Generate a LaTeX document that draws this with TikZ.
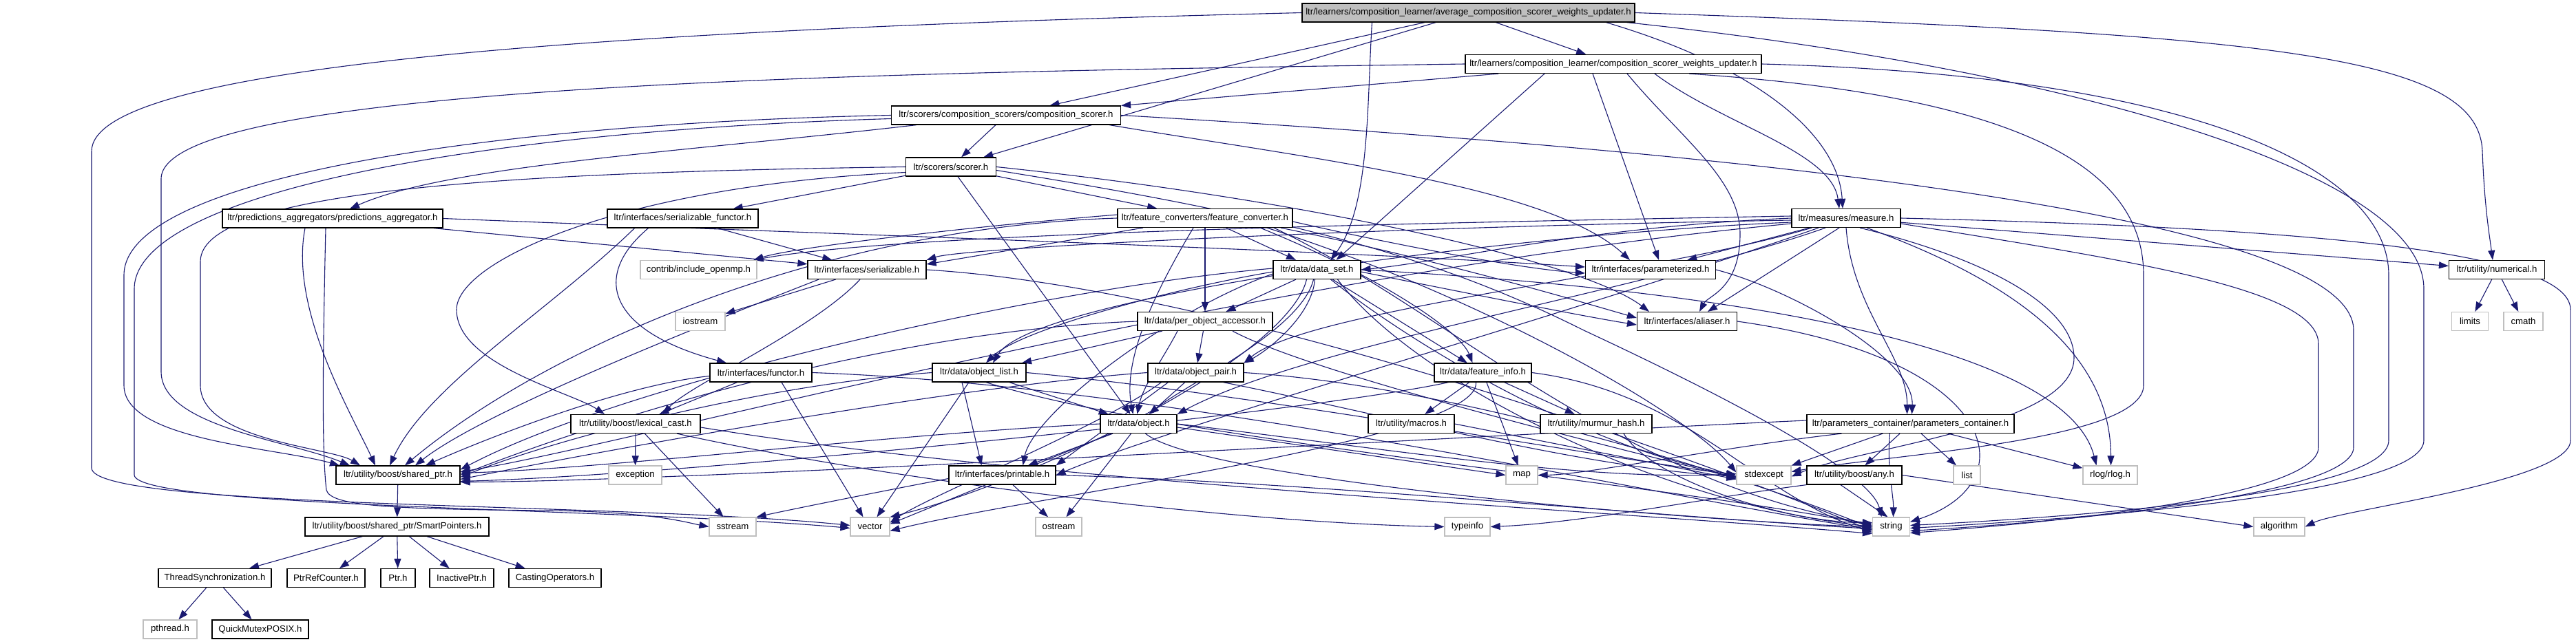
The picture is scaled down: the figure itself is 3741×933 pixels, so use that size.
\documentclass[tikz,border=0pt]{standalone}
\usepackage{fontspec}
\newfontfamily\lblfont{Liberation Sans}
\usetikzlibrary{arrows.meta}
\definecolor{edgecol}{HTML}{191970}
\definecolor{sysgray}{HTML}{BFBFBF}
\pgfdeclarelayer{edges}
\pgfsetlayers{edges,main}
\tikzset{
  bx/.style={draw=black, line width=1.2pt, fill=white, minimum height=27pt, inner sep=0pt,
    font=\lblfont\fontsize{13.2}{15}\selectfont, minimum width=#1pt},
  sysbx/.style={bx=#1, draw=sysgray},
  topbx/.style={bx=#1, fill=sysgray},
  e/.style={draw=edgecol, line width=1.1pt, -{Triangle[length=14pt,width=10pt]}},
}
\begin{document}
\begin{tikzpicture}[x=1pt,y=-1pt]
\useasboundingbox (0,0) rectangle (3741,933);
% nodes
\node[topbx=483] (avg) at (2132.5,18.5) {ltr/learners/composition\_learner/average\_composition\_scorer\_weights\_updater.h};
\node[bx=430] (cswu) at (2343,93) {ltr/learners/composition\_learner/composition\_scorer\_weights\_updater.h};
\node[bx=333] (cs) at (1461,167.5) {ltr/scorers/composition\_scorers/composition\_scorer.h};
\node[bx=131] (scorer) at (1381,242.5) {ltr/scorers/scorer.h};
\node[bx=320] (pa) at (483,317.5) {ltr/predictions\_aggregators/predictions\_aggregator.h};
\node[bx=219] (sf) at (991.5,317.5) {ltr/interfaces/serializable\_functor.h};
\node[bx=254] (fc) at (1750,317) {ltr/feature\_converters/feature\_converter.h};
\node[bx=158] (meas) at (2681,317) {ltr/measures/measure.h};
\node[bx=189] (param) at (2397,392) {ltr/interfaces/parameterized.h};
\node[sysbx=169] (omp) at (1014.5,392) {contrib/include\_openmp.h};
\node[bx=172] (ser) at (1259,392) {ltr/interfaces/serializable.h};
\node[bx=127] (ds) at (1912.5,392) {ltr/data/data\_set.h};
\node[bx=139] (num) at (3626,392) {ltr/utility/numerical.h};
\node[bx=145] (alias) at (2450,467) {ltr/interfaces/aliaser.h};
\node[sysbx=72] (iostream) at (1017,467) {iostream};
\node[sysbx=53] (limits) at (3587,467) {limits};
\node[sysbx=57] (cmath) at (3664.5,467) {cmath};
\node[bx=196] (poa) at (1750,467) {ltr/data/per\_object\_accessor.h};
\node[bx=136] (ol) at (1422,541.5) {ltr/data/object\_list.h};
\node[bx=139] (op) at (1736.5,541.5) {ltr/data/object\_pair.h};
\node[bx=141] (fi) at (2153.5,541.5) {ltr/data/feature\_info.h};
\node[bx=148] (functor) at (1105,541.5) {ltr/interfaces/functor.h};
\node[bx=188] (lc) at (923,616) {ltr/utility/boost/lexical\_cast.h};
\node[bx=111] (obj) at (1653.5,616) {ltr/data/object.h};
\node[bx=125] (macros) at (2049.5,616) {ltr/utility/macros.h};
\node[bx=162] (mh) at (2318,616) {ltr/utility/murmur\_hash.h};
\node[bx=301] (pc) at (2774.5,616) {ltr/parameters\_container/parameters\_container.h};
\node[bx=180] (sp) at (578,690.5) {ltr/utility/boost/shared\_ptr.h};
\node[sysbx=77] (exception) at (922.5,690.5) {exception};
\node[bx=155] (print) at (1455.5,690.5) {ltr/interfaces/printable.h};
\node[sysbx=46] (map) at (2210,690.5) {map};
\node[sysbx=79] (stdexc) at (2561.5,690.5) {stdexcept};
\node[bx=138] (any) at (2693,690.5) {ltr/utility/boost/any.h};
\node[sysbx=39] (list) at (2856.5,690.5) {list};
\node[sysbx=79] (rlog) at (3064.5,690.5) {rlog/rlog.h};
\node[bx=267] (smart) at (576.5,765.5) {ltr/utility/boost/shared\_ptr/SmartPointers.h};
\node[sysbx=68] (sstream) at (1064,765.5) {sstream};
\node[sysbx=57] (vector) at (1263.5,765.5) {vector};
\node[sysbx=67] (ostream) at (1537.5,765.5) {ostream};
\node[sysbx=66] (typeinfo) at (2131,765.5) {typeinfo};
\node[sysbx=54] (string) at (2746.5,765.5) {string};
\node[sysbx=74] (algorithm) at (3310,765.5) {algorithm};
\node[bx=164] (ts) at (312,840) {ThreadSynchronization.h};
\node[bx=113] (prc) at (473.5,840) {PtrRefCounter.h};
\node[bx=50] (ptr) at (578,840) {Ptr.h};
\node[bx=93] (inactive) at (670.5,840) {InactivePtr.h};
\node[bx=134] (casting) at (806,840) {CastingOperators.h};
\node[sysbx=78] (pthread) at (247,914.5) {pthread.h};
\node[bx=140] (qm) at (378,914.5) {QuickMutexPOSIX.h};

\begin{pgfonlayer}{edges}
% average_composition_scorer_weights_updater.h
\draw[e] (avg) -- (cswu);
\draw[e] (avg) -- (cs);
\draw[e] (avg) -- (scorer);
\draw[e] ([xshift=-140pt]avg.south) .. controls (1985,150) and (1990,300) .. ([xshift=20pt]ds.north);
\draw[e] ([xshift=200pt]avg.south) .. controls (2560,100) and (2670,200) .. ([xshift=-5pt]meas.north);
\draw[e] (avg.east) .. controls (3300,50) and (3600,80) .. (3605,220) .. controls (3608,300) and (3615,340) .. ([xshift=-6pt]num.north);
\draw[e] (avg.west) .. controls (800,45) and (133,100) .. (133,220) -- (133,680) .. controls (133,740) and (900,730) .. ([yshift=2pt]vector.west);
\draw[e] ([xshift=230pt]avg.south) .. controls (3000,100) and (3520,250) .. (3520,420) -- (3520,640) .. controls (3520,720) and (3000,755) .. ([yshift=-2pt]string.east);
% composition_scorer_weights_updater.h
\draw[e] (cswu) -- (cs);
\draw[e] ([xshift=60pt]cswu.south) .. controls (2500,180) and (2660,220) .. ([xshift=-10pt]meas.north);
\draw[e] ([xshift=-30pt]cswu.south) -- ([xshift=12pt]param.north);
\draw[e] ([xshift=20pt]cswu.south) .. controls (2440,200) and (2527,260) .. (2527,340) .. controls (2527,420) and (2480,430) .. ([xshift=18pt]alias.north);
\draw[e] ([xshift=-100pt]cswu.south) -- ([xshift=28pt]ds.north);
\draw[e] (cswu.west) .. controls (1300,105) and (234,120) .. (234,260) -- (234,540) .. controls (234,620) and (420,640) .. ([xshift=-70pt]sp.north);
\draw[e] ([xshift=110pt]cswu.south) .. controls (2950,140) and (3113,250) .. (3113,400) -- (3113,560) .. controls (3113,640) and (2750,660) .. ([yshift=5pt]stdexc.east);
\draw[e] (cswu.east) .. controls (3200,110) and (3469,250) .. (3469,400) -- (3469,640) .. controls (3469,720) and (3000,752) .. ([yshift=2pt]string.east);
% composition_scorer.h
\draw[e] (cs) -- (scorer);
\draw[e] ([xshift=-130pt]cs.south) .. controls (1000,220) and (650,240) .. ([xshift=25pt]pa.north);
\draw[e] (cs.west) .. controls (700,180) and (180,260) .. (180,400) -- (180,560) .. controls (180,640) and (400,650) .. ([xshift=-85pt]sp.north);
\draw[e] ([yshift=-5pt]cs.west) .. controls (700,190) and (195,280) .. (195,420) -- (195,690) .. controls (195,738) and (900,738) .. ([yshift=-2pt]vector.west);
\draw[e] ([xshift=150pt]cs.south) .. controls (1900,230) and (2250,270) .. ([xshift=-30pt]param.north);
\draw[e] (cs.east) .. controls (2700,230) and (3418,330) .. (3418,480) -- (3418,650) .. controls (3418,720) and (3000,758) .. ([yshift=-6pt]string.east);
% scorer.h
\draw[e] (scorer) -- (sf);
\draw[e] (scorer) -- (fc);
\draw[e] ([xshift=10pt]scorer.south) -- ([xshift=-12pt]obj.north);
\draw[e] (scorer.west) .. controls (800,250) and (291,270) .. (291,380) -- (291,560) .. controls (291,640) and (480,650) .. ([xshift=-55pt]sp.north);
\draw[e] ([yshift=-8pt]scorer.west) .. controls (900,270) and (663,380) .. (663,450) .. controls (663,530) and (830,570) .. ([xshift=-45pt]lc.north);
\draw[e] (scorer.east) .. controls (1900,290) and (2300,380) .. ([xshift=-55pt]alias.north);
\draw[e] ([yshift=-5pt]scorer.east) .. controls (1900,320) and (2100,380) .. (2300,480) .. controls (2600,620) and (2720,700) .. ([xshift=-14pt]string.north);
% predictions_aggregator.h
\draw[e] (pa) -- (ser);
\draw[e] (pa.east) .. controls (1200,340) and (1900,362) .. ([yshift=4pt]param.west);
\draw[e] ([xshift=-40pt]pa.south) .. controls (420,450) and (510,600) .. ([xshift=-33pt]sp.north);
\draw[e] ([xshift=-10pt]pa.south) .. controls (468,550) and (468,660) .. (474,712) .. controls (480,735) and (560,740) .. (800,742) .. controls (950,744) and (1000,760) .. (sstream.west);
% serializable_functor.h
\draw[e] (sf) -- (ser);
\draw[e] ([xshift=-50pt]sf.south) .. controls (860,400) and (880,480) .. ([xshift=-50pt]functor.north);
\draw[e] ([xshift=-70pt]sf.south) .. controls (800,450) and (620,560) .. ([xshift=-12pt]sp.north);
% feature_converter.h
\draw[e] ([xshift=-90pt]fc.south) -- ([yshift=8pt]ser.east);
\draw[e] (fc) -- (poa);
\draw[e] (fc) -- (ds);
\draw[e] ([xshift=-17pt]fc.south) .. controls (1680,420) and (1630,520) .. ([xshift=-8pt]obj.north);
\draw[e] ([xshift=80pt]fc.south) .. controls (2000,400) and (2120,480) .. ([xshift=-15pt]fi.north);
\draw[e] ([xshift=110pt]fc.south) .. controls (2100,380) and (2300,440) .. ([yshift=5pt]alias.west);
\draw[e] ([yshift=-5pt]fc.east) .. controls (2000,350) and (2200,390) .. ([yshift=-5pt]param.west);
\draw[e] ([xshift=100pt]fc.south) .. controls (2100,450) and (2350,700) .. ([yshift=4pt]string.west);
\draw[e] ([xshift=90pt]fc.south) .. controls (2150,430) and (2450,600) .. ([yshift=4pt]stdexc.west);
\draw[e] (fc.west) .. controls (1200,330) and (800,500) .. ([xshift=10pt]sp.north);
\draw[e] ([yshift=5pt]fc.west) .. controls (1400,330) and (1150,360) .. ([xshift=80pt]omp.north);
% measure.h
\draw[e] (meas) -- (param);
\draw[e] ([xshift=-10pt]meas.south) -- ([xshift=30pt]alias.north);
\draw[e] (meas.west) .. controls (2300,330) and (2100,380) .. (ds.east);
\draw[e] (meas) -- (num);
\draw[e] (meas.east) .. controls (3300,330) and (3733,360) .. (3733,450) -- (3733,640) .. controls (3733,700) and (3400,740) .. (algorithm.east);
\draw[e] ([yshift=-8pt]meas.east) .. controls (3100,380) and (3367,420) .. (3367,500) -- (3367,650) .. controls (3367,720) and (3000,758) .. ([yshift=-9pt]string.east);
\draw[e] ([xshift=30pt]meas.south) .. controls (2900,400) and (3065,500) .. ([xshift=1pt]rlog.north);
\draw[e] ([xshift=20pt]meas.south) .. controls (2900,380) and (3012,450) .. (3012,520) .. controls (3012,620) and (2700,650) .. ([yshift=-2pt]stdexc.east);
\draw[e] ([yshift=3pt]meas.west) .. controls (2000,325) and (1300,340) .. ([xshift=80pt]omp.north);
\draw[e] ([yshift=-3pt]meas.west) .. controls (2000,330) and (1400,360) .. (ser.north east);
\draw[e] ([yshift=-6pt]meas.west) .. controls (2200,340) and (1500,430) .. ([xshift=20pt]ol.north);
\draw[e] ([xshift=-50pt]meas.south) .. controls (2400,400) and (1900,450) .. (op.north east);
\draw[e] ([xshift=-30pt]meas.south) .. controls (2400,420) and (1900,500) .. (obj.north east);
\draw[e] ([xshift=-40pt]meas.south) .. controls (2300,450) and (1700,620) .. (print.east);
\draw[e] ([yshift=-8pt]meas.west) .. controls (1800,400) and (900,650) .. ([yshift=5pt]sp.east);
\draw[e] (meas.south) .. controls (2690,450) and (2770,520) .. ([xshift=-5pt]pc.north);
% parameterized.h
\draw[e] (param.east) .. controls (2600,420) and (2780,520) .. ([xshift=2pt]pc.north);
% serializable.h
\draw[e] (ser) -- (iostream);
\draw[e] (ser.east) .. controls (1800,420) and (2500,680) .. ([yshift=-6pt]string.west);
\draw[e] ([xshift=-10pt]ser.south) .. controls (1180,480) and (1000,560) .. ([xshift=40pt]lc.north);
\draw[e] ([xshift=-70pt]ser.south) .. controls (1000,480) and (700,600) .. ([xshift=25pt]sp.north);
% data_set.h
\draw[e] ([yshift=-3pt]ds.east) .. controls (2100,420) and (2300,460) .. ([yshift=-5pt]alias.west);
\draw[e] (ds) -- (fi);
\draw[e] ([xshift=-5pt]ds.south) .. controls (1890,480) and (1720,560) .. ([xshift=15pt]obj.north);
\draw[e] ([yshift=-3pt]ds.west) .. controls (1700,420) and (1480,480) .. ([xshift=10pt]ol.north);
\draw[e] ([xshift=-3pt]ds.south) .. controls (1905,460) and (1840,510) .. (op.north east);
\draw[e] (ds) -- (poa);
\draw[e] ([yshift=-6pt]ds.west) .. controls (1700,450) and (1500,600) .. ([xshift=30pt]print.north);
\draw[e] ([yshift=2pt]ds.west) .. controls (1500,420) and (900,560) .. ([yshift=8pt]sp.east);
\draw[e] ([xshift=-15pt]ds.south) .. controls (1870,520) and (1500,700) .. (vector.north east);
\draw[e] ([xshift=30pt]ds.south) .. controls (2050,550) and (2400,730) .. (string.west);
\draw[e] ([xshift=20pt]ds.south) .. controls (2050,500) and (2300,650) .. (stdexc.west);
\draw[e] (ds.east) .. controls (2500,420) and (3000,500) .. ([xshift=-20pt]rlog.north);
% numerical.h
\draw[e] (num) -- (limits);
\draw[e] (num) -- (cmath);
% aliaser.h
\draw[e] (alias.east) .. controls (2900,520) and (2950,700) .. ([yshift=7pt]string.east);
% per_object_accessor.h
\draw[e] (poa) -- (ol);
\draw[e] (poa) -- (op);
\draw[e] ([xshift=-40pt]poa.south) .. controls (1690,520) and (1660,560) .. ([xshift=-2pt]obj.north);
\draw[e] (poa.west) .. controls (1300,480) and (900,600) .. (sp.east);
\draw[e] ([xshift=40pt]poa.south) .. controls (1900,540) and (2300,640) .. ([yshift=-4pt]stdexc.west);
% object_list.h
\draw[e] (ol) -- (obj);
\draw[e] ([xshift=-25pt]ol.south) -- ([xshift=-30pt]print.north);
\draw[e] (ol.west) .. controls (1100,560) and (800,640) .. ([yshift=-3pt]sp.east);
\draw[e] ([xshift=-15pt]ol.south) -- ([xshift=10pt]vector.north);
\draw[e] ([xshift=10pt]ol.south) .. controls (1700,640) and (2400,700) .. ([yshift=2pt]string.west);
\draw[e] (ol.east) .. controls (1800,570) and (2300,660) .. (stdexc.west);
% object_pair.h
\draw[e] (op) -- (obj);
\draw[e] ([xshift=-40pt]op.south) -- (print.north east);
\draw[e] (op.west) .. controls (1400,560) and (900,650) .. ([yshift=-6pt]sp.east);
\draw[e] ([xshift=-50pt]op.south) .. controls (1600,620) and (1350,720) .. ([yshift=6pt]vector.east);
\draw[e] (op.east) .. controls (2100,560) and (2500,680) .. ([yshift=-2pt]string.west);
\draw[e] ([xshift=40pt]op.south) .. controls (2000,600) and (2300,680) .. ([yshift=-2pt]stdexc.west);
% feature_info.h
\draw[e] (fi) -- (macros);
\draw[e] (fi) -- (mh);
\draw[e] (fi) -- (map);
\draw[e] (fi.east) .. controls (2450,570) and (2550,720) .. ([yshift=-8pt]string.west);
\draw[e] ([xshift=-10pt]fi.south) .. controls (2150,640) and (1500,720) .. ([yshift=-6pt]vector.east);
\draw[e] ([xshift=-50pt]fi.south) .. controls (1900,600) and (1000,690) .. ([yshift=-9pt]sp.east);
% functor.h
\draw[e] (functor) -- (lc);
\draw[e] ([yshift=-5pt]functor.west) .. controls (900,560) and (700,640) .. ([xshift=40pt]sp.north);
\draw[e] ([xshift=30pt]functor.south) -- ([xshift=-10pt]vector.north);
\draw[e] (functor.east) .. controls (1700,560) and (2400,720) .. ([yshift=-4pt]string.west);
% lexical_cast.h
\draw[e] (lc) -- (exception);
\draw[e] (lc) -- (sstream);
\draw[e] ([xshift=60pt]lc.south) .. controls (1300,700) and (1800,760) .. (typeinfo.west);
\draw[e] ([yshift=-5pt]lc.east) .. controls (1500,700) and (2300,740) .. ([yshift=-10pt]string.west);
% object.h
\draw[e] (obj) -- (print);
\draw[e] ([xshift=-40pt]obj.south) -- ([yshift=4pt]vector.east);
\draw[e] (obj) -- (ostream);
\draw[e] ([xshift=10pt]obj.south) .. controls (1750,700) and (2500,760) .. (string.west);
\draw[e] ([yshift=-5pt]obj.east) -- (map.west);
\draw[e] (obj.east) .. controls (2000,650) and (2300,700) .. ([yshift=2pt]stdexc.west);
\draw[e] (obj.west) .. controls (1300,630) and (900,680) .. ([yshift=3pt]sp.east);
% macros, murmur_hash
\draw[e] (macros.east) -- ([yshift=-6pt]stdexc.west);
\draw[e] ([xshift=40pt]mh.south) .. controls (2400,700) and (2600,760) .. ([yshift=6pt]string.west);
% parameters_container.h
\draw[e] ([xshift=-100pt]pc.south) .. controls (2500,650) and (2300,690) .. (map.east);
\draw[e] (pc) -- (stdexc);
\draw[e] (pc) -- (any);
\draw[e] (pc) -- (list);
\draw[e] ([xshift=-30pt]pc.south) .. controls (2740,680) and (2750,720) .. ([xshift=3pt]string.north);
\draw[e] (pc) -- (rlog);
\draw[e] ([yshift=5pt]pc.west) .. controls (2200,630) and (1000,700) .. ([yshift=-10pt]sp.east);
% shared_ptr.h, printable.h, any.h
\draw[e] (sp) -- (smart);
\draw[e] (print) -- (ostream);
\draw[e] ([yshift=-5pt]print.west) .. controls (1300,710) and (1150,740) .. (sstream.north east);
\draw[e] (print.east) .. controls (1900,700) and (2400,750) .. ([yshift=-3pt]string.west);
\draw[e] (any.south west) .. controls (2500,720) and (2300,760) .. (typeinfo.east);
\draw[e] ([xshift=-20pt]any.south) -- ([xshift=-5pt]string.north);
\draw[e] (any.east) -- (algorithm.west);
% SmartPointers.h
\draw[e] (smart) -- (ts);
\draw[e] (smart) -- (prc);
\draw[e] (smart) -- (ptr);
\draw[e] (smart) -- (inactive);
\draw[e] (smart) -- (casting);
\draw[e] (ts) -- (pthread);
\draw[e] (ts) -- (qm);
\end{pgfonlayer}
\end{tikzpicture}
\end{document}
